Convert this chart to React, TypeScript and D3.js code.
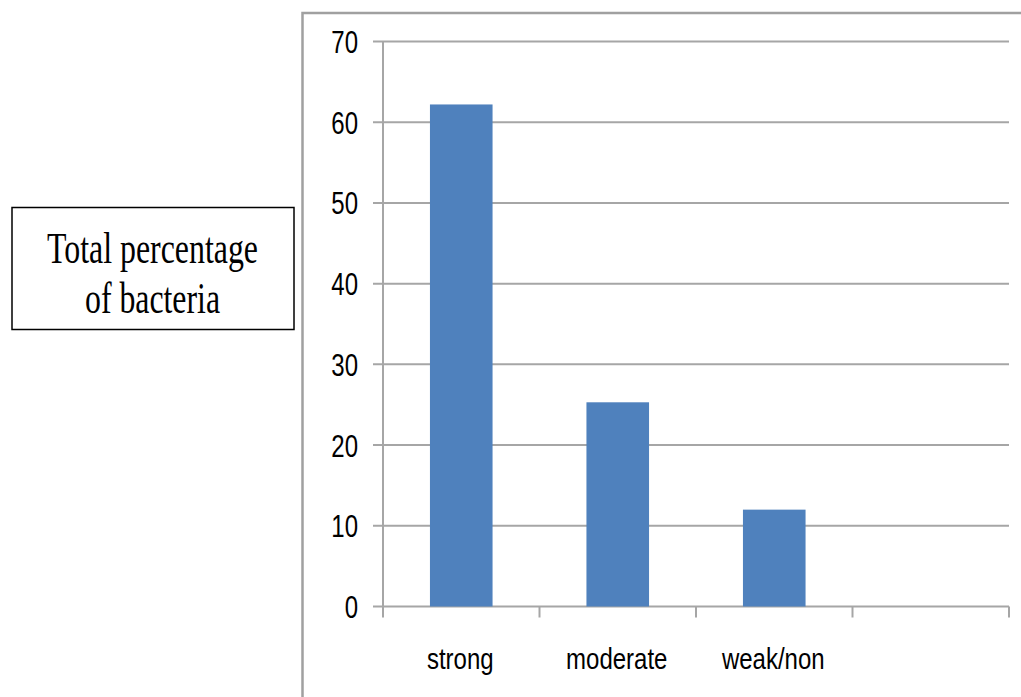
import React from "react";
import * as d3 from "d3";

const categories = ["strong", "moderate", "weak/non", ""];
const values = [62.2, 25.3, 12.0, null];
const yTicks = [0, 10, 20, 30, 40, 50, 60, 70];
const labelLines = ["Total percentage", "of bacteria"];

export default function App() {
  const W = 1021, H = 697;
  const x0 = 383, x1 = 1009;
  const y0 = 606.5, y1 = 41.5;
  const keys = categories.map((c, i) => c + "#" + i);
  const x = d3.scaleBand<string>().domain(keys).range([x0, x1]).paddingInner(0.6).paddingOuter(0.3);
  const xb = d3.scaleBand<string>().domain(keys).range([x0, x1]);
  const y = d3.scaleLinear().domain([0, 70]).range([y0, y1]);
  const grid = "#a6a6a6";
  const sans = "'Liberation Sans Narrow', 'Liberation Sans', Arial, sans-serif";
  const serif = "'Liberation Serif', 'Times New Roman', serif";
  return (
    <svg width={W} height={H} style={{ position: "absolute", left: 0, top: 0, background: "#fff" }}>
      <rect x={0} y={0} width={W} height={H} fill="#fff" />
      {/* outer chart border */}
      <rect x={302.5} y={13} width={W} height={H} fill="none" stroke="#a0a0a0" strokeWidth={2.5} />
      {/* gridlines and y labels */}
      {yTicks.map((t) => (
        <g key={t}>
          <line x1={373} x2={x1} y1={y(t)} y2={y(t)} stroke={grid} strokeWidth={2} />
          <g transform={`translate(358,${y(t) + 11.5}) scale(0.75,1)`}>
            <text x={0} y={0} textAnchor="end" fontFamily={sans} fontSize={32} fill="#000">
              {t}
            </text>
          </g>
        </g>
      ))}
      {/* y axis */}
      <line x1={x0} x2={x0} y1={y1} y2={y0 + 11} stroke={grid} strokeWidth={2} />
      {/* x ticks */}
      {keys.map((k, i) => {
        const bx = xb(k)! + xb.bandwidth();
        return <line key={"t" + i} x1={bx} x2={bx} y1={y0} y2={y0 + 11} stroke={grid} strokeWidth={2} />;
      })}
      {/* bars */}
      {keys.map((k, i) => {
        const v = values[i];
        if (v == null) return null;
        return <rect key={"b" + i} x={x(k)} y={y(v)} width={x.bandwidth()} height={y0 - y(v)} fill="#4f81bd" />;
      })}
      {/* category labels */}
      {keys.map((k, i) => (
        <g key={"l" + i} transform={`translate(${xb(k)! + xb.bandwidth() / 2 - 1},669) scale(0.8,1)`}>
          <text x={0} y={0} textAnchor="middle" fontFamily={sans} fontSize={30} fill="#000">
            {categories[i]}
          </text>
        </g>
      ))}
      {/* label box */}
      <rect x={12} y={207.5} width={282} height={122} fill="#fff" stroke="#000" strokeWidth={1.5} />
      <text x={152.5} y={263} textAnchor="middle" fontFamily={serif} fontSize={44} textLength={211} lengthAdjust="spacingAndGlyphs" fill="#000">
        {labelLines[0]}
      </text>
      <text x={152.5} y={313} textAnchor="middle" fontFamily={serif} fontSize={44} textLength={135} lengthAdjust="spacingAndGlyphs" fill="#000">
        {labelLines[1]}
      </text>
    </svg>
  );
}
